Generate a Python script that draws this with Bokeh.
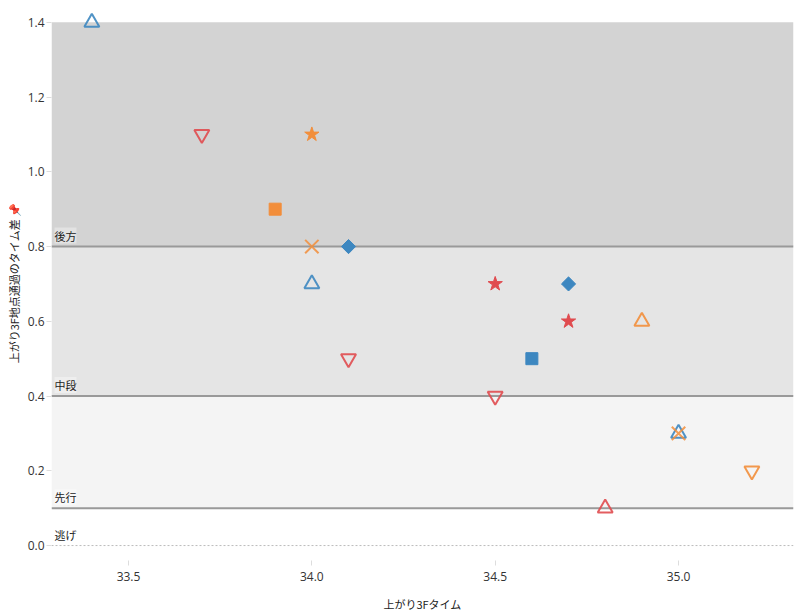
import math
import pandas as pd
from bokeh.plotting import figure
from bokeh.models import (ColumnDataSource, Range1d, FixedTicker, NumeralTickFormatter,
                          BoxAnnotation, Span, Label)
from bokeh.embed import file_html
from bokeh.resources import INLINE

# ---- data ----
agari_3f = [33.4, 33.7, 34.0, 33.9, 34.0, 34.1, 34.0, 34.1, 34.5, 34.7, 34.7, 34.9, 34.6, 34.5, 35.0, 35.0, 35.2, 34.8]
time_diff = [1.4, 1.1, 1.1, 0.9, 0.8, 0.8, 0.7, 0.5, 0.7, 0.7, 0.6, 0.6, 0.5, 0.4, 0.3, 0.3, 0.2, 0.1]
group = ["A", "C", "B", "B", "B", "A", "A", "C", "C", "A", "C", "B", "A", "C", "B", "A", "B", "C"]
shape = ["triangle", "inverted_triangle", "star", "square", "x", "diamond", "triangle",
         "inverted_triangle", "star", "diamond", "star", "triangle", "square",
         "inverted_triangle", "x", "triangle", "inverted_triangle", "triangle"]

band_names = ["逃げ", "先行", "中段", "後方"]
band_bottoms = [0.0, 0.1, 0.4, 0.8]
band_tops = [0.1, 0.4, 0.8, 1.4]

x_ticks = [33.5, 34.0, 34.5, 35.0]
y_ticks = [0.0, 0.2, 0.4, 0.6, 0.8, 1.0, 1.2, 1.4]

group_colors = {"A": "#3d87c0", "B": "#f28e3b", "C": "#e04b4f"}

df = pd.DataFrame({"x": agari_3f, "y": time_diff, "group": group, "marker": shape})
df["color"] = df["group"].map(group_colors)

FONT = "Noto Sans CJK JP"

p = figure(width=796, height=615, output_backend="svg", toolbar_location=None,
           x_range=Range1d(33.29, 35.3135), y_range=Range1d(-0.04, 1.445),
           min_border_left=51, min_border_right=3, min_border_top=5, min_border_bottom=55)
p.outline_line_color = None
p.grid.visible = False
p.background_fill_color = "white"

band_fills = ["#ffffff", "#f4f4f4", "#e5e5e5", "#d3d3d3"]
for b, t, c in zip(band_bottoms, band_tops, band_fills):
    p.add_layout(BoxAnnotation(bottom=b, top=t, fill_color=c, fill_alpha=1.0, line_color=None, level="underlay"))

for b in band_bottoms:
    if b == 0.0:
        p.add_layout(Span(location=b, dimension="width", line_color="#bbbbbb", line_width=1, line_dash="2 2", level="underlay"))
    else:
        p.add_layout(Span(location=b, dimension="width", line_color="#999999", line_width=2, level="underlay"))

for name, b in zip(band_names, band_bottoms):
    p.add_layout(Label(x=33.29, y=b, text=name, x_offset=3, y_offset=3,
                       text_font=FONT, text_font_size="11px", text_color="#222222",
                       text_baseline="bottom", background_fill_color="white",
                       background_fill_alpha=0.35))

def src(kind):
    return ColumnDataSource(df[df["marker"] == kind])

for kind in ("triangle", "inverted_triangle"):
    p.scatter("x", "y", source=src(kind), marker=kind, size=15, fill_color=None,
              line_color="color", line_width=2, line_alpha=0.9)
p.scatter("x", "y", source=src("x"), marker="x", size=19, line_color="color",
          line_width=2, line_alpha=0.85)
p.scatter("x", "y", source=src("square"), marker="square", size=12, fill_color="color",
          line_color="color", line_width=1)
p.scatter("x", "y", source=src("diamond"), marker="square", angle=math.pi / 4, size=10,
          fill_color="color", line_color="color", line_width=1)
p.scatter("x", "y", source=src("star"), marker="star", size=15, fill_color="color",
          line_color="color", line_width=1)

p.xaxis.ticker = FixedTicker(ticks=x_ticks)
p.yaxis.ticker = FixedTicker(ticks=y_ticks)
p.xaxis.formatter = NumeralTickFormatter(format="0.0")
p.yaxis.formatter = NumeralTickFormatter(format="0.0")
for ax in (p.xaxis, p.yaxis):
    ax.axis_line_color = None
    ax.major_tick_line_color = "#dddddd"
    ax.minor_tick_line_color = None
    ax.major_tick_in = 0
    ax.major_tick_out = 5
    ax.major_label_text_font = "Open Sans"
    ax.major_label_text_font_size = "12px"
    ax.major_label_text_color = "#333333"
    ax.axis_label_text_font = FONT
    ax.axis_label_text_font_size = "11px"
    ax.axis_label_text_font_style = "normal"
    ax.axis_label_text_color = "#222222"
p.xaxis.axis_label = "上がり3Fタイム"
p.yaxis.axis_label = "上がり3F地点通過のタイム差 📌"
p.xaxis.major_label_standoff = 6
p.xaxis.axis_label_standoff = 12
p.yaxis.major_label_standoff = 2
p.yaxis.axis_label_standoff = 3

open("out.html", "w").write(file_html(p, INLINE))
